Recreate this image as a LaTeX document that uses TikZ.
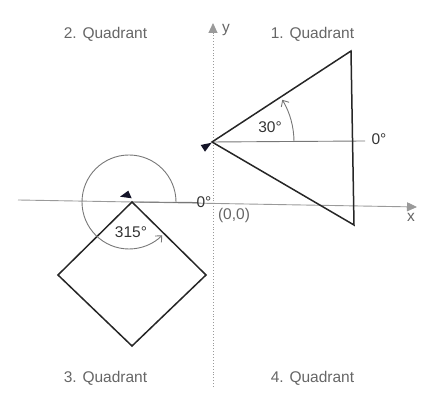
\documentclass[tikz,border=0pt]{standalone}
\usepackage{fontspec}
\setmainfont{Liberation Sans}
\usepackage{tikz}
\usetikzlibrary{arrows.meta,positioning,calc}

\definecolor{axisgray}{HTML}{9A9A9A}
\definecolor{textgray}{HTML}{666666}
\definecolor{refgray}{HTML}{777777}
\definecolor{markblue}{HTML}{141428}

\begin{document}
\begin{tikzpicture}[x=1pt, y=1pt,
    quad/.style={font=\fontsize{15.5}{18}\selectfont, text=textgray, inner sep=0pt},
    ang/.style={font=\fontsize{15.5}{18}\selectfont, text=black!80, inner sep=0pt},
    axislbl/.style={font=\fontsize{15.5}{18}\selectfont, text=textgray, inner sep=0pt},
    figure/.style={draw=black!85, line width=1.5pt, line join=miter},
    ref/.style={draw=refgray, line width=0.9pt},
    axis/.style={draw=axisgray, line width=0.9pt, -{Triangle[length=10pt,width=9pt]}},
    turn/.style={draw=refgray, line width=0.9pt, -{Straight Barb[length=5pt,width=9pt]}},
    marker/.style={fill=markblue}
]
\useasboundingbox (0,0) rectangle (442,419);

% axes
\coordinate (xstart) at (18,219);
\coordinate (xend) at (417,212);
\coordinate (ystart) at (213,32);
\coordinate (yend) at (213,396);
\draw[axis] (xstart) -- (xend);
\draw[axis, dotted] (ystart) -- (yend);
\node[axislbl] (xlbl) at (411,202) {x};
\node[axislbl] (ylbl) at (226,389) {y};
\node[axislbl] (orig) at (234,204) {(0,0)};

% quadrants
\node[quad] (q1) at (312.5,385) {1. Quadrant};
\node[quad] (q2) at (105.5,385) {2. Quadrant};
\node[quad] (q3) at (105.5,41) {3. Quadrant};
\node[quad] (q4) at (312.5,41) {4. Quadrant};

% triangle, 30 degrees
\coordinate (apex) at (212,277);
\coordinate (ttop) at (351,368);
\coordinate (tbot) at (354,194);
\coordinate (tref) at (365,278);
\draw[ref] (apex) -- (tref);
\draw[figure] (apex) -- (ttop) -- (tbot) -- cycle;
\draw[turn] ($(apex)+(82,0)$) arc[start angle=0, end angle=31, radius=82];
\fill[marker] (200.7,274) -- (211.7,276.3) -- (205,267.3) -- cycle;
\node[ang] (tzero) at (379,280) {0°};
\node[ang] (tang) at (270,292) {30°};

% square, 315 degrees
\coordinate (dtop) at (132,217);
\coordinate (dright) at (206,144);
\coordinate (dbot) at (132,73);
\coordinate (dleft) at (58,144);
\coordinate (dref) at (198,216.5);
\draw[ref] (dtop) -- (dref);
\draw[figure] (dtop) -- (dright) -- (dbot) -- (dleft) -- cycle;
\draw[turn] (176,217) arc[start angle=0, end angle=315, radius=47];
\fill[marker] (128.3,228.3) -- (120,222.3) -- (131.7,220.7) -- cycle;
\node[ang] (dzero) at (204,217) {0°};
\node[ang] (dang) at (131,187) {315°};
\end{tikzpicture}
\end{document}
